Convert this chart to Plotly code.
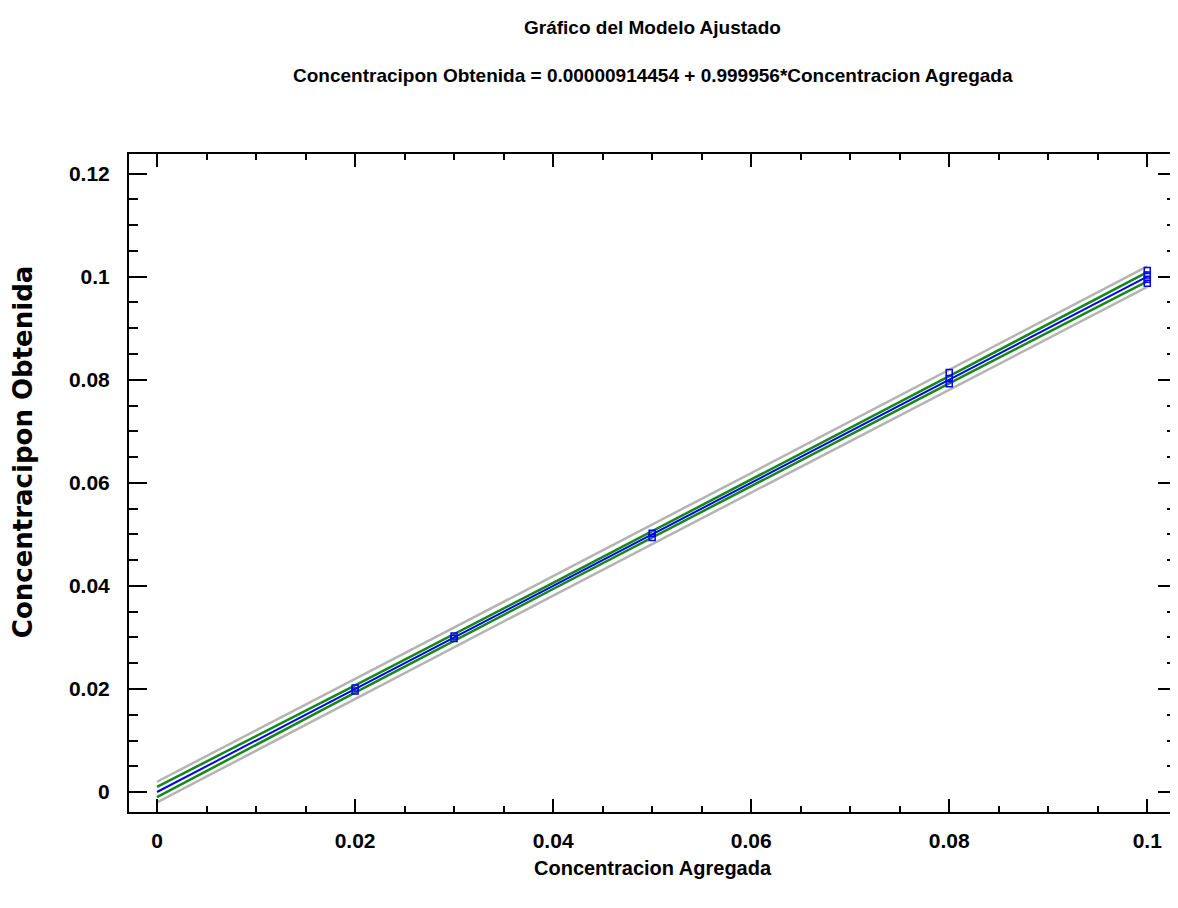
import plotly.graph_objects as go

# Data points (observed)
x_obs = [0.02, 0.02, 0.03, 0.03, 0.05, 0.05, 0.08, 0.08, 0.08, 0.1, 0.1, 0.1, 0.1]
y_obs = [0.0202, 0.0196, 0.0303, 0.0298, 0.0502, 0.0494, 0.0814, 0.0802, 0.0792, 0.1012, 0.1003, 0.0995, 0.0987]

# Fitted line and limits
x_line = [0.0, 0.02, 0.04, 0.06, 0.08, 0.1]
y_fit = [0.0000091, 0.0200083, 0.0400074, 0.0600065, 0.0800056, 0.1000047]
conf_upper = [0.0010, 0.0207, 0.0406, 0.0606, 0.0807, 0.1009]
conf_lower = [-0.0010, 0.0193, 0.0394, 0.0594, 0.0793, 0.0991]
pred_upper = [0.0020, 0.0219, 0.0419, 0.0619, 0.0819, 0.1020]
pred_lower = [-0.0020, 0.0181, 0.0381, 0.0581, 0.0781, 0.0980]

x_ticks = [0, 0.02, 0.04, 0.06, 0.08, 0.1]
x_ticktext = ["0", "0.02", "0.04", "0.06", "0.08", "0.1"]
y_ticks = [0, 0.02, 0.04, 0.06, 0.08, 0.1, 0.12]
y_ticktext = ["0", "0.02", "0.04", "0.06", "0.08", "0.1", "0.12"]

title1 = "Gráfico del Modelo Ajustado"
title2 = "Concentracipon Obtenida = 0.00000914454 + 0.999956*Concentracion Agregada"
x_title = "Concentracion Agregada"
y_title = "Concentracipon Obtenida"

NARROW = "Liberation Sans Narrow, Arial Narrow, Liberation Sans, Arial, sans-serif"

# page body has an 8px default margin; figure is sized/placed accordingly
W, H = 1170, 900
L, T, B, R = 121, 146, 96, 0
PH = H - T - B

fig = go.Figure()
for ys in (pred_upper, pred_lower):
    fig.add_trace(go.Scatter(x=x_line, y=ys, mode="lines",
                             line=dict(color="#b4b4b4", width=2.5), showlegend=False))
for ys in (conf_upper, conf_lower):
    fig.add_trace(go.Scatter(x=x_line, y=ys, mode="lines",
                             line=dict(color="#138a13", width=2.5), showlegend=False))
fig.add_trace(go.Scatter(x=x_line, y=y_fit, mode="lines",
                         line=dict(color="#0000ff", width=2), showlegend=False))
fig.add_trace(go.Scatter(x=x_obs, y=y_obs, mode="markers",
                         marker=dict(symbol="square-open", size=6, color="#0000ff",
                                     line=dict(width=1.5, color="#0000ff")),
                         showlegend=False))

axis_common = dict(showline=True, linecolor="black", linewidth=2, mirror="ticks",
                   ticks="inside", tickcolor="black", tickwidth=2,
                   showgrid=False, zeroline=False,
                   tickfont=dict(family=NARROW, size=21, color="black", weight="bold"))

fig.update_xaxes(range=[-0.00283, 0.1029], tickvals=x_ticks, ticktext=x_ticktext,
                 ticklen=13, ticklabelstandoff=9,
                 minor=dict(ticks="inside", dtick=0.005, tick0=0, ticklen=6,
                            tickwidth=2, tickcolor="black", showgrid=False),
                 **axis_common)
fig.update_yaxes(range=[-0.00387, 0.1238], tickvals=y_ticks, ticktext=y_ticktext,
                 ticklen=18, ticklabelstandoff=13,
                 minor=dict(ticks="inside", dtick=0.005, tick0=0, ticklen=9,
                            tickwidth=2, tickcolor="black", showgrid=False),
                 **axis_common)

def py(img_y):
    # convert reference image y (pixels) to paper coordinate
    return (H - B - (img_y - 8)) / PH

def px(img_x):
    return ((img_x - 8) - L) / (W - L - R)

fig.update_layout(
    width=W, height=H,
    margin=dict(l=L, r=R, t=T, b=B),
    paper_bgcolor="white", plot_bgcolor="white",
    showlegend=False,
    annotations=[
        dict(text=title1, xref="paper", yref="paper", x=0.5, y=py(27),
             xanchor="center", yanchor="middle", showarrow=False,
             font=dict(family=NARROW, size=19, color="black", weight="bold")),
        dict(text=title2, xref="paper", yref="paper", x=0.5, y=py(75),
             xanchor="center", yanchor="middle", showarrow=False,
             font=dict(family=NARROW, size=19, color="black", weight="bold")),
        dict(text=x_title, xref="paper", yref="paper", x=0.5, y=py(868),
             xanchor="center", yanchor="middle", showarrow=False,
             font=dict(family=NARROW, size=20, color="black", weight="bold")),
        dict(text=y_title, xref="paper", yref="paper", x=px(23),
             y=py(452), xanchor="center", yanchor="middle", showarrow=False,
             textangle=-90,
             font=dict(family="DejaVu Sans", size=26, color="black", weight="bold")),
    ],
)

fig.write_html("out.html")
